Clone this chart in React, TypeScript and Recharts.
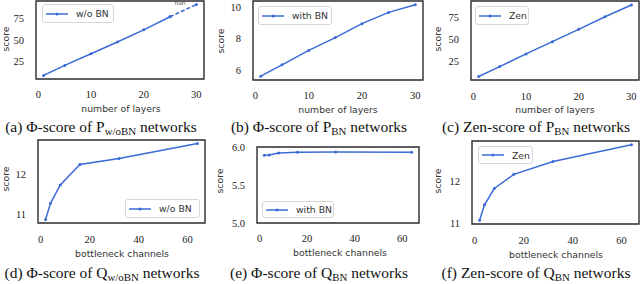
import { Legend, Line, LineChart, ReferenceArea, ReferenceDot, XAxis, YAxis } from "recharts";

const layers = [1, 5, 10, 15, 20, 25, 30];
const phiNoBnLayers = [9, 20.5, 34, 47.4, 61.4, 76.5, 90.5];
const phiBnLayers = [5.62, 6.34, 7.25, 8.06, 8.94, 9.65, 10.13];
const zenLayers = [8, 19.3, 33.7, 47.7, 61.7, 76, 89.4];

const channels = [2, 4, 8, 16, 32, 64];
const phiNoBnChannels = [10.88, 11.28, 11.74, 12.25, 12.4, 12.77];
const phiBnChannels = [5.89, 5.895, 5.92, 5.93, 5.935, 5.93];
const zenChannels = [11.08, 11.44, 11.82, 12.15, 12.45, 12.84];

const layerTicks = [0, 10, 20, 30];
const channelTicks = [0, 20, 40, 60];

// last point of the w/o BN layer sweep overflowed
const nanFrom = 5;
const nanNote = { x: 26.9, y: 92.8, text: "nan" };

const BLUE = "#3a6bd6";
const SANS = "'DejaVu Sans', sans-serif";
const SERIF = "'Liberation Serif', serif";
const tickStyle = { fontFamily: SERIF, fontSize: 10.5, fill: "#222" };

type Box = { left: number; top: number; width: number; height: number };

function legendBox(pos: Box, name: string) {
  return () => (
    <div
      style={{
        position: "absolute",
        left: pos.left,
        top: pos.top,
        width: pos.width,
        height: pos.height,
        boxSizing: "border-box",
        border: "1px solid #d6d6d6",
        borderRadius: 3,
        background: "#fff",
        display: "flex",
        alignItems: "center",
        paddingLeft: 3,
        fontFamily: SANS,
        fontSize: 9.3,
        color: "#333",
      }}
    >
      <svg width={22} height={6} style={{ marginRight: 8 }}>
        <line x1={0} y1={3} x2={22} y2={3} stroke={BLUE} strokeWidth={1.5} />
        <circle cx={11} cy={3} r={1.5} fill={BLUE} />
      </svg>
      {name}
    </div>
  );
}

type PanelProps = {
  left: number;
  top: number;
  width: number;
  height: number;
  marginTop: number;
  marginRight: number;
  yAxisWidth: number;
  xAxisHeight: number;
  xTickMargin: number;
  xs: number[];
  ys: number[];
  name: string;
  xDomain: [number, number];
  yDomain: [number, number];
  xTicks: number[];
  yTicks: number[];
  yFormat?: (v: number) => string;
  legend: Box;
  split?: number;
};

function Panel(p: PanelProps) {
  const data = p.xs.map((x, i) => ({
    x,
    solid: p.split === undefined || i <= p.split ? p.ys[i] : null,
    dashed: p.split !== undefined && i >= p.split ? p.ys[i] : null,
  }));
  return (
    <div style={{ position: "absolute", left: p.left, top: p.top }}>
      <LineChart
        width={p.width}
        height={p.height}
        data={data}
        margin={{ top: p.marginTop, right: p.marginRight, bottom: 0, left: 0 }}
      >
        <XAxis
          dataKey="x"
          type="number"
          domain={p.xDomain}
          ticks={p.xTicks}
          height={p.xAxisHeight}
          axisLine={false}
          tickLine={false}
          tickSize={0}
          tickMargin={p.xTickMargin}
          tick={tickStyle}
          allowDataOverflow
        />
        <YAxis
          type="number"
          domain={p.yDomain}
          ticks={p.yTicks}
          width={p.yAxisWidth}
          axisLine={false}
          tickLine={false}
          tickSize={0}
          tickMargin={12}
          tick={tickStyle}
          tickFormatter={p.yFormat}
          allowDataOverflow
        />
        <ReferenceArea
          x1={p.xDomain[0]}
          x2={p.xDomain[1]}
          y1={p.yDomain[0]}
          y2={p.yDomain[1]}
          fill="none"
          stroke="#2b2b2b"
          strokeWidth={1.4}
        />
        <Legend
          layout="horizontal"
          verticalAlign="middle"
          align="center"
          wrapperStyle={{ left: 0, top: 0, width: 0, height: 0 }}
          content={legendBox(p.legend, p.name)}
        />
        <Line
          dataKey="solid"
          name={p.name}
          stroke={BLUE}
          strokeWidth={1.5}
          dot={{ r: 1.5, fill: BLUE, stroke: BLUE, strokeWidth: 0 }}
          activeDot={false}
          connectNulls={false}
          isAnimationActive={false}
        />
        {p.split !== undefined && (
          <Line
            dataKey="dashed"
            name={p.name + " (nan)"}
            legendType="none"
            stroke={BLUE}
            strokeWidth={1.5}
            strokeDasharray="4 2"
            dot={{ r: 1.5, fill: BLUE, stroke: BLUE, strokeWidth: 0 }}
            activeDot={false}
            isAnimationActive={false}
          />
        )}
        {p.split !== undefined && (
          <ReferenceDot
            x={nanNote.x}
            y={nanNote.y}
            r={0}
            stroke="none"
            label={{ value: nanNote.text, position: "center", fontSize: 6, fill: "#555", fontFamily: SANS }}
          />
        )}
      </LineChart>
    </div>
  );
}

function AxisTitle({ text, cx, cy, vertical }: { text: string; cx: number; cy: number; vertical?: boolean }) {
  return (
    <div
      style={{
        position: "absolute",
        left: cx - 60,
        top: cy - 5,
        width: 120,
        height: 10,
        lineHeight: "10px",
        textAlign: "center",
        fontFamily: SANS,
        fontSize: 9.3,
        color: "#333",
        transform: vertical ? "rotate(-90deg)" : undefined,
        whiteSpace: "nowrap",
      }}
    >
      {text}
    </div>
  );
}

function Caption({ cx, cy, children }: { cx: number; cy: number; children: React.ReactNode }) {
  return (
    <div
      style={{
        position: "absolute",
        left: cx - 110,
        top: cy - 9,
        width: 220,
        lineHeight: "18px",
        textAlign: "center",
        fontFamily: SERIF,
        fontSize: 15.5,
        color: "#111",
        whiteSpace: "nowrap",
      }}
    >
      {children}
    </div>
  );
}

const sub = { fontSize: "0.7em", verticalAlign: "-0.3em", lineHeight: 0 };

const layerX: [number, number] = [-0.45, 31.45];
const channelX: [number, number] = [-1.1, 67.1];

export default function App() {
  return (
    <div style={{ position: "absolute", left: 0, top: 0, width: 640, height: 284, background: "#fff" }}>
      <Panel
        left={0} top={0} width={206} height={106} marginTop={1} marginRight={2}
        yAxisWidth={36} xAxisHeight={27} xTickMargin={12}
        xs={layers} ys={phiNoBnLayers} name="w/o BN" split={nanFrom}
        xDomain={layerX} yDomain={[4.9, 94.6]} xTicks={layerTicks} yTicks={[25, 50, 75]}
        legend={{ left: 42, top: 4, width: 72, height: 19 }}
      />
      <Panel
        left={215} top={0} width={209} height={106} marginTop={1} marginRight={1}
        yAxisWidth={38} xAxisHeight={26} xTickMargin={12}
        xs={layers} ys={phiBnLayers} name="with BN"
        xDomain={layerX} yDomain={[5.38, 10.37]} xTicks={layerTicks} yTicks={[6, 8, 10]}
        legend={{ left: 43, top: 6, width: 74, height: 19 }}
      />
      <Panel
        left={430} top={0} width={210} height={106} marginTop={1} marginRight={1}
        yAxisWidth={41} xAxisHeight={26} xTickMargin={13}
        xs={layers} ys={zenLayers} name="Zen"
        xDomain={layerX} yDomain={[4, 94]} xTicks={layerTicks} yTicks={[25, 50, 75]}
        legend={{ left: 45, top: 6, width: 54, height: 19 }}
      />
      <Panel
        left={0} top={130} width={206} height={121} marginTop={10} marginRight={1}
        yAxisWidth={38} xAxisHeight={28} xTickMargin={13}
        xs={channels} ys={phiNoBnChannels} name="w/o BN"
        xDomain={channelX} yDomain={[10.79, 12.86]} xTicks={channelTicks} yTicks={[11, 12]}
        legend={{ left: 125, top: 69, width: 75, height: 19 }}
      />
      <Panel
        left={215} top={130} width={205} height={121} marginTop={17} marginRight={1}
        yAxisWidth={42} xAxisHeight={28} xTickMargin={12}
        xs={channels} ys={phiBnChannels} name="with BN"
        xDomain={channelX} yDomain={[5, 6]} xTicks={channelTicks} yTicks={[5, 5.5, 6]}
        yFormat={(v) => v.toFixed(1)}
        legend={{ left: 47, top: 71, width: 72, height: 17 }}
      />
      <Panel
        left={430} top={130} width={210} height={121} marginTop={11} marginRight={1}
        yAxisWidth={42} xAxisHeight={27} xTickMargin={13}
        xs={channels} ys={zenChannels} name="Zen"
        xDomain={channelX} yDomain={[10.99, 12.93]} xTicks={channelTicks} yTicks={[11, 12]}
        legend={{ left: 48, top: 16, width: 55, height: 18 }}
      />

      <AxisTitle text="score" cx={5.5} cy={39} vertical />
      <AxisTitle text="score" cx={221} cy={41} vertical />
      <AxisTitle text="score" cx={438} cy={39} vertical />
      <AxisTitle text="score" cx={5.5} cy={179} vertical />
      <AxisTitle text="score" cx={220} cy={181} vertical />
      <AxisTitle text="score" cx={438} cy={181} vertical />

      <AxisTitle text="number of layers" cx={121} cy={109} />
      <AxisTitle text="number of layers" cx={338} cy={110} />
      <AxisTitle text="number of layers" cx={555} cy={110} />
      <AxisTitle text="bottleneck channels" cx={122} cy={254} />
      <AxisTitle text="bottleneck channels" cx={340} cy={253} />
      <AxisTitle text="bottleneck channels" cx={556} cy={255} />

      <Caption cx={101} cy={127}>(a) Φ-score of P<span style={sub}>w/oBN</span> networks</Caption>
      <Caption cx={319} cy={127}>(b) Φ-score of P<span style={sub}>BN</span> networks</Caption>
      <Caption cx={536} cy={127}>(c) Zen-score of P<span style={sub}>BN</span> networks</Caption>
      <Caption cx={102} cy={273}>(d) Φ-score of Q<span style={sub}>w/oBN</span> networks</Caption>
      <Caption cx={319} cy={273}>(e) Φ-score of Q<span style={sub}>BN</span> networks</Caption>
      <Caption cx={536} cy={273}>(f) Zen-score of Q<span style={sub}>BN</span> networks</Caption>
    </div>
  );
}
